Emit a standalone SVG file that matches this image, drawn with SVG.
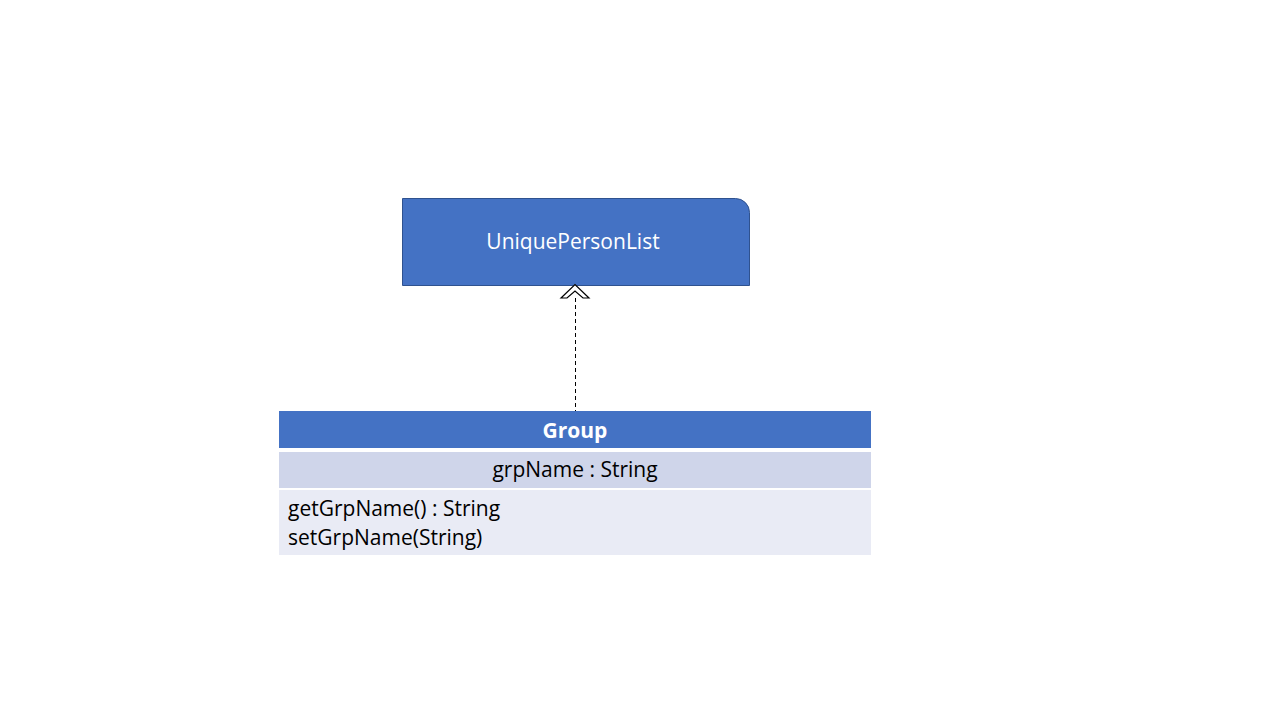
<svg xmlns="http://www.w3.org/2000/svg" width="1280" height="720" viewBox="0 0 1280 720">
<style>
text{font-family:"Open Sans","Liberation Sans",sans-serif;font-size:21px}
.w{fill:#ffffff}
.b{fill:#000000}
</style>
<rect width="1280" height="720" fill="#ffffff"/>
<g id="UniquePersonList">
<path d="M402.5,198.5 H735.5 A14,14 0 0 1 749.5,212.5 V285.5 H402.5 Z" fill="#4472C4" stroke="#2F528F" stroke-width="1"/>
<text class="w" x="573" y="249" text-anchor="middle">UniquePersonList</text>
</g>
<g id="Group">
<rect x="279" y="411" width="592" height="37" fill="#4472C4"/>
<text class="w" x="575" y="438" text-anchor="middle" font-weight="bold">Group</text>
<rect x="279" y="452" width="592" height="36" fill="#CFD5EA"/>
<text class="b" x="575" y="477" text-anchor="middle">grpName : String</text>
<rect x="279" y="490" width="592" height="65" fill="#E9EBF5"/>
<text class="b" x="288" y="516">getGrpName() : String</text>
<text class="b" x="288" y="545">setGrpName(String)</text>
</g>
<g id="connectors">
<line x1="575.5" y1="298" x2="575.5" y2="411" stroke="#000" stroke-width="1" stroke-dasharray="4,3"/>
<path d="M561,298 L575,284.5 L589,298 L583,298 L575,291 L567,298 Z" fill="#ffffff" stroke="#000" stroke-width="1.2" stroke-linejoin="miter"/>
</g>
</svg>
